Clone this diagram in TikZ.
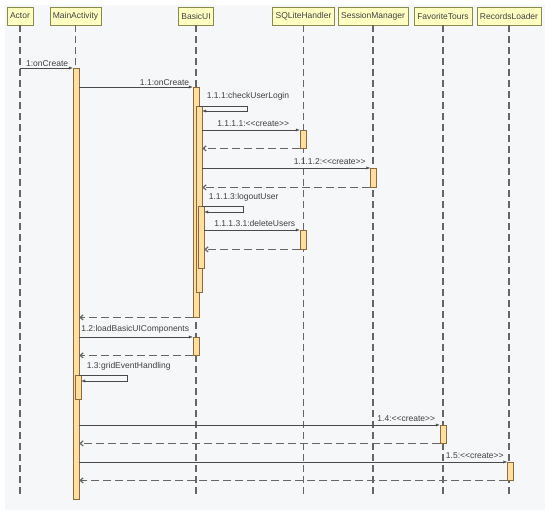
\documentclass[tikz,border=0pt]{standalone}
\usepackage{fontspec}
\setmainfont{Liberation Sans}
\usetikzlibrary{arrows.meta}
\usetikzlibrary{positioning}
\definecolor{panelgray}{HTML}{F5F7F9}
\definecolor{headfill}{HTML}{FFFFC2}
\definecolor{headline}{HTML}{8A8A4E}
\definecolor{actfill}{HTML}{FFDFA0}
\definecolor{actline}{HTML}{8C6A3C}
\definecolor{msgline}{HTML}{4A4A4A}
\tikzstyle{headbox}=[draw=headline, fill=headfill, rectangle, inner xsep=3pt,
					minimum height=18pt, font=\fontsize{8.5}{10}\selectfont, text=black!75]
\newcommand{\stereo}[1]{{<}{<}#1{>}{>}}

\begin{document}
\begin{tikzpicture}[x=1pt, y=-1pt,
 actbox/.style={rectangle, draw=actline, fill=actfill, inner sep=0pt, minimum width=6pt, anchor=north},
 lifeline/.style={draw=black!60, dash pattern=on 7pt off 4pt, line width=1.2pt},
 call/.style={draw=msgline, -{Latex[length=4pt,width=3pt]}},
 reply/.style={draw=black!60, dash pattern=on 8pt off 4pt, line width=1.2pt, -{Straight Barb[length=3pt,width=5pt]}},
 msglabel/.style={font=\fontsize{8.5}{10}\selectfont, text=black!75, inner sep=1.5pt},
 ]
 \useasboundingbox (0,0) rectangle (550,515);
 \fill[panelgray] (5,5) rectangle (545,510);

 %Heads
 \node[headbox] (actor_node)    at (20,16)    {Actor};
 \node[headbox] (main_node)     at (75.5,16)  {MainActivity};
 \node[headbox] (basic_node)    at (196,16)   {BasicUI};
 \node[headbox] (sqlite_node)   at (303.5,16) {SQLiteHandler};
 \node[headbox] (session_node)  at (373,16)   {SessionManager};
 \node[headbox] (favorite_node) at (443,16)   {FavoriteTours};
 \node[headbox] (records_node)  at (509,16)   {RecordsLoader};

 %Lifelines
 \foreach \h in {actor_node, main_node, basic_node, sqlite_node, session_node, favorite_node, records_node}
   \draw[lifeline] (\h.south) -- (\h.south |- 0,497);

 %Activations
 \node[actbox, minimum height=431pt] (main_act)    at (76,68)    {};
 \node[actbox, minimum height=230pt] (basic_act)   at (196,87)   {};
 \node[actbox, minimum height=186pt] (login_act)   at (199,106)  {};
 \node[actbox, minimum height=18pt]  (sqlite_act)  at (303,130)  {};
 \node[actbox, minimum height=19pt]  (session_act) at (373.5,168) {};
 \node[actbox, minimum height=62pt]  (logout_act)  at (201,206)  {};
 \node[actbox, minimum height=19pt]  (delete_act)  at (303,230)  {};
 \node[actbox, minimum height=18pt]  (load_act)    at (196,337)  {};
 \node[actbox, minimum height=24pt]  (grid_act)    at (78,375)   {};
 \node[actbox, minimum height=18pt]  (favorite_act) at (443,425) {};
 \node[actbox, minimum height=18pt]  (records_act) at (510.5,462) {};

 %Messages
 \draw[call] (actor_node.south |- main_act.north) -- node[msglabel, pos=1, anchor=south east, xshift=-3pt] {1:onCreate} (main_act.north west);
 \draw[call] (main_act.east |- basic_act.north) -- node[msglabel, pos=1, anchor=south east, xshift=-2pt] {1.1:onCreate} (basic_act.north west);
 \draw[call] (basic_act.east |- login_act.north) node[msglabel, anchor=south west, xshift=6pt, yshift=4pt] {1.1.1:checkUserLogin}
   -- ++(48,0) -- ++(0,5) -- ([yshift=-5pt]login_act.north east);
 \draw[call] (login_act.east |- sqlite_act.north) -- node[msglabel, pos=1, anchor=south east, xshift=-9pt, yshift=2pt] {1.1.1.1:\stereo{create}} (sqlite_act.north west);
 \draw[reply] (sqlite_act.south west) -- (login_act.east |- sqlite_act.south);
 \draw[call] (login_act.east |- session_act.north) -- node[msglabel, pos=1, anchor=south east, xshift=-3pt, yshift=2pt] {1.1.1.2:\stereo{create}} (session_act.north west);
 \draw[reply] (session_act.south west) -- (login_act.east |- session_act.south);
 \draw[call] (login_act.east |- logout_act.north) node[msglabel, anchor=south west, xshift=5pt, yshift=3pt] {1.1.1.3:logoutUser}
   -- ++(41,0) -- ++(0,6) -- ([yshift=-6pt]logout_act.north east);
 \draw[call] (logout_act.east |- delete_act.north) -- node[msglabel, pos=1, anchor=south east, xshift=-3pt, yshift=2pt] {1.1.1.3.1:deleteUsers} (delete_act.north west);
 \draw[reply] (delete_act.south west) -- (logout_act.east |- delete_act.south);
 \draw[reply] (basic_act.south west) -- (main_act.east |- basic_act.south);
 \draw[call] (main_act.east |- load_act.north) -- node[msglabel, pos=1, anchor=south east, xshift=-2pt, yshift=2pt] {1.2:loadBasicUIComponents} (load_act.north west);
 \draw[reply] (load_act.south west) -- (main_act.east |- load_act.south);
 \draw[call] (main_act.east |- grid_act.north) node[msglabel, anchor=south west, xshift=6pt, yshift=3pt] {1.3:gridEventHandling}
   -- ++(48,0) -- ++(0,6) -- ([yshift=-6pt]grid_act.north east);
 \draw[call] (main_act.east |- favorite_act.north) -- node[msglabel, pos=1, anchor=south east, xshift=-3pt, yshift=2pt] {1.4:\stereo{create}} (favorite_act.north west);
 \draw[reply] (favorite_act.south west) -- (main_act.east |- favorite_act.south);
 \draw[call] (main_act.east |- records_act.north) -- node[msglabel, pos=1, anchor=south east, xshift=-2pt, yshift=2pt] {1.5:\stereo{create}} (records_act.north west);
 \draw[reply] (records_act.south west) -- (main_act.east |- records_act.south);
\end{tikzpicture}
\end{document}
